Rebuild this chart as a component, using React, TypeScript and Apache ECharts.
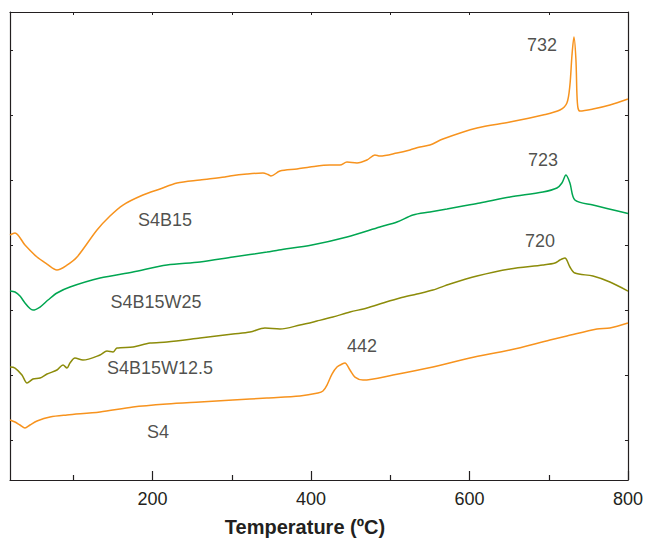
import React, { useEffect, useRef } from "react";
import * as echarts from "echarts";

// Temperature (°C) and heat-flow (arbitrary, offset) readings for each trace
const s4b15Temp = [20, 26.3, 38.9, 54.1, 66.7, 79.3, 91.9, 104.6, 129.8, 146.2, 162.6, 187.8, 209.3, 230.8, 259.8, 291.3, 297.6, 319.1, 339.3, 345.6, 349.4, 360.7, 382.2, 398.6, 423.8, 436.5, 445.3, 457.9, 470.5, 480.6, 486.9, 508.4, 524.8, 537.4, 550, 566.4, 609.4, 651, 692.6, 714.1, 722.9, 726.7, 729.3, 731.8, 734.3, 735.6, 736.9, 739.4, 755.8, 777.2, 800];
const s4b15Val = [3.154, 3.185, 3.0, 2.815, 2.708, 2.615, 2.69, 2.815, 3.231, 3.446, 3.615, 3.769, 3.862, 3.954, 4.0, 4.046, 4.062, 4.092, 4.108, 4.085, 4.062, 4.138, 4.169, 4.2, 4.231, 4.231, 4.277, 4.262, 4.308, 4.385, 4.369, 4.415, 4.462, 4.508, 4.538, 4.631, 4.8, 4.892, 5.0, 5.077, 5.185, 5.46, 5.92, 6.2, 5.85, 5.31, 5.108, 5.062, 5.092, 5.154, 5.246];

const s4b15w25Temp = [20, 26.3, 32.6, 38.9, 45.2, 49, 57.9, 68, 79.3, 95.7, 133.6, 175.2, 218.1, 259.8, 301.4, 344.3, 359.4, 401.1, 445.3, 486.9, 508.4, 528.6, 550, 571.5, 591.7, 613.1, 651, 692.6, 710.3, 716.6, 721.7, 726.7, 733, 755.8, 800];
const s4b15w25Val = [2.292, 2.277, 2.215, 2.108, 2.023, 2.0, 2.046, 2.154, 2.262, 2.354, 2.492, 2.585, 2.692, 2.738, 2.815, 2.892, 2.923, 3.0, 3.123, 3.277, 3.354, 3.462, 3.508, 3.554, 3.6, 3.646, 3.738, 3.815, 3.877, 3.954, 4.077, 3.954, 3.692, 3.615, 3.485];

const s4b15w125Temp = [20, 26.3, 35.1, 41.5, 49, 57.9, 66.7, 79.3, 86.9, 91.9, 95.7, 102, 112.1, 133.6, 142.4, 150, 155, 175.2, 196.7, 218.1, 259.8, 301.4, 322.9, 341.8, 360.7, 386, 407.5, 427.6, 449.1, 470.5, 490.7, 512.2, 533.6, 553.8, 575.3, 609.4, 651, 692.6, 707.8, 714.1, 720.4, 726.7, 733, 755.8, 777.2, 800];
const s4b15w125Val = [1.123, 1.108, 1.0, 0.877, 0.938, 0.954, 1.015, 1.077, 1.154, 1.108, 1.185, 1.262, 1.231, 1.308, 1.369, 1.354, 1.415, 1.431, 1.492, 1.508, 1.569, 1.631, 1.662, 1.723, 1.708, 1.769, 1.831, 1.892, 1.969, 2.031, 2.108, 2.185, 2.246, 2.308, 2.4, 2.523, 2.631, 2.692, 2.723, 2.769, 2.8, 2.662, 2.569, 2.523, 2.431, 2.292];

const s4Temp = [20, 26.3, 32.6, 38.9, 45.2, 54.1, 70.5, 91.9, 133.6, 175.2, 218.1, 259.8, 301.4, 344.3, 386, 408.7, 415, 420.1, 426.4, 432.7, 439.1, 442.8, 449.1, 455.4, 465.5, 503.4, 553.8, 600.5, 651, 701.5, 722.9, 760.8, 777.2, 800];
const s4Val = [0.308, 0.277, 0.231, 0.185, 0.231, 0.292, 0.354, 0.385, 0.431, 0.508, 0.554, 0.585, 0.615, 0.646, 0.677, 0.723, 0.754, 0.846, 1.015, 1.123, 1.169, 1.185, 1.077, 0.969, 0.923, 1.0, 1.123, 1.262, 1.385, 1.538, 1.6, 1.708, 1.723, 1.8];

// Annotations: text and anchor (temperature, value)
const noteTexts = ["S4B15", "S4B15W25", "S4B15W12.5", "S4", "442", "720", "723", "732"];
const noteTemps = [215.6, 204.3, 209.3, 206.8, 464.2, 688.9, 692.6, 691.4];
const noteVals = [3.385, 2.123, 1.108, 0.123, 1.446, 3.062, 4.308, 6.077];

const xMajorTicks = [200, 400, 600, 800];
const xMinorTicks = [100, 300, 500, 700];
const xTopTicks = [100, 200, 300, 400, 500, 600, 700, 800];
const yTicks = [0, 1, 2, 3, 4, 5, 6];

const X_MIN = 20;
const X_MAX = 800;
const Y_MIN = -0.615;
const Y_MAX = 6.585;

const ORANGE = "#f7931e";
const GREEN = "#00a651";
const OLIVE = "#8c8c0a";
const INK = "#231f20";
const FONT = "Liberation Sans, Arial, sans-serif";

function zip(xs: number[], ys: number[]) {
  return xs.map((x, i) => [x, ys[i]]);
}

export default function App() {
  const ref = useRef<HTMLDivElement>(null);

  useEffect(() => {
    if (!ref.current) return;
    const chart = echarts.init(ref.current, undefined, { renderer: "svg" });

    const lineSeries = (name: string, data: number[][], color: string) => ({
      name,
      type: "line",
      xAxisIndex: 0,
      yAxisIndex: 0,
      data,
      showSymbol: false,
      symbol: "none",
      smooth: 0.3,
      lineStyle: { color, width: 1.5 },
      silent: true,
    });

    const notes = noteTexts.map((t, i) => [noteTemps[i], noteVals[i], t]);

    chart.setOption({
      animation: false,
      backgroundColor: "#ffffff",
      grid: { left: 10, right: 18, top: 12, bottom: 63, containLabel: false },
      xAxis: [
        {
          type: "value",
          position: "bottom",
          min: X_MIN,
          max: X_MAX,
          axisLine: { show: true, onZero: false, lineStyle: { color: INK, width: 1.2 } },
          axisTick: { show: true, inside: true, length: 9, customValues: xMajorTicks, lineStyle: { color: INK, width: 1.2 } },
          axisLabel: { show: true, customValues: xMajorTicks, color: INK, fontSize: 18, fontFamily: FONT, margin: 10 },
          splitLine: { show: false },
          name: "Temperature (ºC)",
          nameLocation: "middle",
          nameGap: 37,
          nameTextStyle: { color: INK, fontSize: 20, fontWeight: "bold", fontFamily: FONT, padding: [0, 28, 0, 0] },
        },
        {
          type: "value",
          position: "bottom",
          min: X_MIN,
          max: X_MAX,
          axisLine: { show: false, onZero: false },
          axisTick: { show: true, inside: true, length: 5, customValues: xMinorTicks, lineStyle: { color: INK, width: 1.2 } },
          axisLabel: { show: false },
          splitLine: { show: false },
        },
        {
          type: "value",
          position: "top",
          min: X_MIN,
          max: X_MAX,
          axisLine: { show: true, onZero: false, lineStyle: { color: INK, width: 1.2 } },
          axisTick: { show: true, inside: true, length: 3, customValues: xTopTicks, lineStyle: { color: INK, width: 1 } },
          axisLabel: { show: false },
          splitLine: { show: false },
        },
      ],
      yAxis: [
        {
          type: "value",
          position: "left",
          min: Y_MIN,
          max: Y_MAX,
          axisLine: { show: true, onZero: false, lineStyle: { color: INK, width: 1.2 } },
          axisTick: { show: true, inside: true, length: 3, customValues: yTicks, lineStyle: { color: INK, width: 1 } },
          axisLabel: { show: false },
          splitLine: { show: false },
        },
        {
          type: "value",
          position: "right",
          min: Y_MIN,
          max: Y_MAX,
          axisLine: { show: true, onZero: false, lineStyle: { color: INK, width: 1.2 } },
          axisTick: { show: true, inside: true, length: 3, customValues: yTicks, lineStyle: { color: INK, width: 1 } },
          axisLabel: { show: false },
          splitLine: { show: false },
        },
      ],
      series: [
        lineSeries("S4B15", zip(s4b15Temp, s4b15Val), ORANGE),
        lineSeries("S4B15W25", zip(s4b15w25Temp, s4b15w25Val), GREEN),
        lineSeries("S4B15W12.5", zip(s4b15w125Temp, s4b15w125Val), OLIVE),
        lineSeries("S4", zip(s4Temp, s4Val), ORANGE),
        {
          name: "notes",
          type: "scatter",
          xAxisIndex: 0,
          yAxisIndex: 0,
          data: notes,
          symbolSize: 0,
          silent: true,
          label: {
            show: true,
            position: "inside",
            formatter: (p: any) => p.value[2],
            color: INK,
            fontSize: 18,
            fontFamily: FONT,
          },
        },
      ],
    });

    return () => chart.dispose();
  }, []);

  return <div ref={ref} style={{ width: 646, height: 543, position: "absolute", left: 0, top: 0 }} />;
}
